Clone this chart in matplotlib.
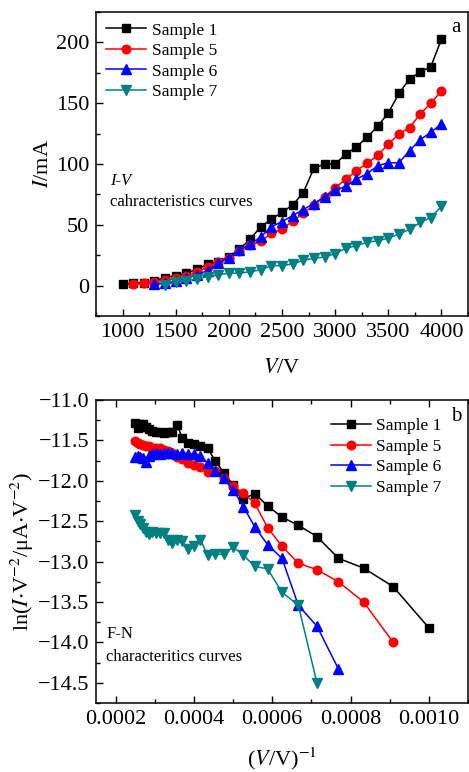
"""
I-V and Fowler-Nordheim curves of four samples, two stacked panels
"""

import matplotlib
matplotlib.use("Agg")
import matplotlib.pyplot as plt
from matplotlib.ticker import MultipleLocator, FuncFormatter

plt.rcParams['font.family'] = ['Liberation Serif', 'DejaVu Serif']
plt.rcParams['mathtext.fontset'] = 'stix'

# voltages (V) of each sample, ascending
VOLT_1 = list(range(1000, 4001, 100))
VOLT_5 = list(range(1100, 4001, 100))
VOLT_6 = list(range(1300, 4001, 100))
VOLT_7 = list(range(1400, 4001, 100))

# current (mA), panel a
CURRENT_1 = [1.1, 2, 2.5, 4, 6.6, 8.2, 10.2, 13.5, 17.6, 19.7, 23.8, 30, 38, 48.5,
             54.5, 60.3, 66.3, 76.4, 96.5, 100, 100, 108, 114, 122, 131, 142, 158,
             170, 175.6, 180, 202.5]
CURRENT_5 = [1, 2, 3, 4.5, 6, 8, 11, 15.5, 19.7, 23, 28.5, 33, 36.5, 43, 46.5, 53,
             59.5, 66.3, 73, 80.5, 87.4, 94.5, 100.6, 107, 116.4, 124.7, 130, 141,
             150, 160]
CURRENT_6 = [1, 2, 3.5, 6, 9, 12.3, 18.4, 23, 29.3, 34, 40, 48.5, 52.6, 57.5, 62.5,
             67.5, 73, 78.6, 81.5, 87.6, 92, 98.6, 101, 101, 111, 120, 126, 133]
CURRENT_7 = [0.5, 2.8, 3.9, 5.5, 7.4, 8.8, 10.2, 10.2, 11.5, 12.9, 16.4, 16.4, 17.8,
             20.8, 22.5, 23.5, 26.3, 30.7, 32.8, 35.6, 36.8, 39, 42.3, 46.3, 51.9,
             56, 65.2]

# ln(I V^-2), panel b, same voltage order as above
FN_1 = [-13.82, -13.31, -13.08, -12.96, -12.69, -12.55, -12.45, -12.31, -12.16,
        -12.22, -12.05, -11.90, -11.75, -11.60, -11.57, -11.55, -11.53, -11.47,
        -11.31, -11.40, -11.39, -11.41, -11.40, -11.40, -11.38, -11.36, -11.33,
        -11.30, -11.30, -11.35, -11.28]
FN_5 = [-14.00, -13.50, -13.25, -13.10, -13.02, -12.81, -12.58, -12.28, -12.15,
        -12.06, -11.97, -11.88, -11.89, -11.83, -11.80, -11.78, -11.73, -11.70,
        -11.66, -11.63, -11.62, -11.60, -11.60, -11.59, -11.57, -11.57, -11.56,
        -11.55, -11.53, -11.51]
FN_6 = [-14.33, -13.80, -13.54, -12.96, -12.79, -12.57, -12.32, -12.11, -11.97,
        -11.88, -11.78, -11.69, -11.67, -11.67, -11.65, -11.67, -11.65, -11.66,
        -11.65, -11.67, -11.66, -11.67, -11.69, -11.77, -11.72, -11.70, -11.69,
        -11.71]
FN_7 = [-14.50, -13.54, -13.38, -13.09, -13.06, -12.92, -12.82, -12.91, -12.91,
        -12.92, -12.73, -12.81, -12.84, -12.75, -12.73, -12.77, -12.73, -12.64,
        -12.64, -12.65, -12.63, -12.66, -12.63, -12.58, -12.53, -12.50, -12.42]

LABELS = ["Sample 1", "Sample 5", "Sample 6", "Sample 7"]
COLORS = ["black", "#ff0000", "#0000ff", "#008080"]
MARKERS = ["s", "o", "^", "v"]
SIZES = [5.2, 6.2, 6.6, 6.6]


def minus(value, pos):
    return ("%.1f" % value).replace("-", "\u2212")


def style_axes(ax):
    for spine in ax.spines.values():
        spine.set_linewidth(1.1)
    ax.tick_params(which="both", direction="in", labelsize=16, pad=5, width=1)
    ax.tick_params(which="major", length=5)
    ax.tick_params(which="minor", length=3)


def main():
    fig = plt.figure(figsize=(4.69, 7.72), dpi=100)
    ax1 = fig.add_axes([96 / 469, 1 - 316 / 772, 372 / 469, 304 / 772])
    ax2 = fig.add_axes([96 / 469, 1 - 703 / 772, 372 / 469, 303 / 772])

    volts = [VOLT_1, VOLT_5, VOLT_6, VOLT_7]
    currents = [CURRENT_1, CURRENT_5, CURRENT_6, CURRENT_7]
    fns = [FN_1, FN_5, FN_6, FN_7]

    for v, i, lab, c, m, s in zip(volts, currents, LABELS, COLORS, MARKERS, SIZES):
        ax1.plot(v, i, color=c, marker=m, markersize=s, linewidth=1.1, label=lab)

    for v, f, lab, c, m, s in zip(volts, fns, LABELS, COLORS, MARKERS, SIZES):
        inv = [1.0 / x for x in v]
        ax2.plot(inv, f, color=c, marker=m, markersize=s, linewidth=1.1, label=lab)

    # panel a
    ax1.set_xlim(750, 4250)
    ax1.set_ylim(-25, 225)
    ax1.xaxis.set_major_locator(MultipleLocator(500))
    ax1.xaxis.set_minor_locator(MultipleLocator(250))
    ax1.yaxis.set_major_locator(MultipleLocator(50))
    ax1.yaxis.set_minor_locator(MultipleLocator(25))
    style_axes(ax1)
    ax1.set_xlabel(r"$\mathit{V}$/V", fontsize=16, labelpad=12)
    ax1.set_ylabel(r"$\mathit{I}$/mA", fontsize=16, labelpad=2)
    ax1.legend(loc="upper left", bbox_to_anchor=(0.0, 1.0), frameon=False,
               fontsize=12.5, borderaxespad=0.2, handlelength=2.3,
               handletextpad=0.3, labelspacing=0.25)
    ax1.text(0.968, 0.95, "a", transform=ax1.transAxes, fontsize=15,
             ha="center", va="center")
    ax1.text(0.038, 0.444, "I-V", transform=ax1.transAxes, fontsize=12,
             style="italic", va="center")
    ax1.text(0.038, 0.375, "cahracteristics curves", transform=ax1.transAxes,
             fontsize=12, va="center")

    # panel b
    ax2.set_xlim(0.00015, 0.0011)
    ax2.set_ylim(-14.75, -11.0)
    ax2.xaxis.set_major_locator(MultipleLocator(0.0002))
    ax2.xaxis.set_minor_locator(MultipleLocator(0.0001))
    ax2.xaxis.set_major_formatter(FuncFormatter(lambda v, p: "%.4f" % v))
    ax2.yaxis.set_major_locator(MultipleLocator(0.5))
    ax2.yaxis.set_minor_locator(MultipleLocator(0.25))
    ax2.yaxis.set_major_formatter(FuncFormatter(minus))
    style_axes(ax2)
    ax2.tick_params(which="both", top=True)
    ax2.set_xlabel(r"($\mathit{V}$/V)$^{-1}$", fontsize=16, labelpad=12)
    ax2.set_ylabel(r"ln($\mathit{I}$$\cdot$V$^{-2}$/μA$\cdot$V$^{-2}$)",
                   fontsize=16, labelpad=1)
    ax2.legend(loc="upper right", bbox_to_anchor=(0.957, 0.974), frameon=False,
               fontsize=12.5, borderaxespad=0.2, handlelength=2.3,
               handletextpad=0.3, labelspacing=0.25)
    ax2.text(0.967, 0.944, "b", transform=ax2.transAxes, fontsize=15,
             ha="center", va="center")
    ax2.text(0.027, 0.228, "F-N", transform=ax2.transAxes, fontsize=12,
             va="center")
    ax2.text(0.027, 0.152, "characteritics curves", transform=ax2.transAxes,
             fontsize=12, va="center")

    fig.savefig("out.png", dpi=100)


if __name__ == "__main__":
    main()
